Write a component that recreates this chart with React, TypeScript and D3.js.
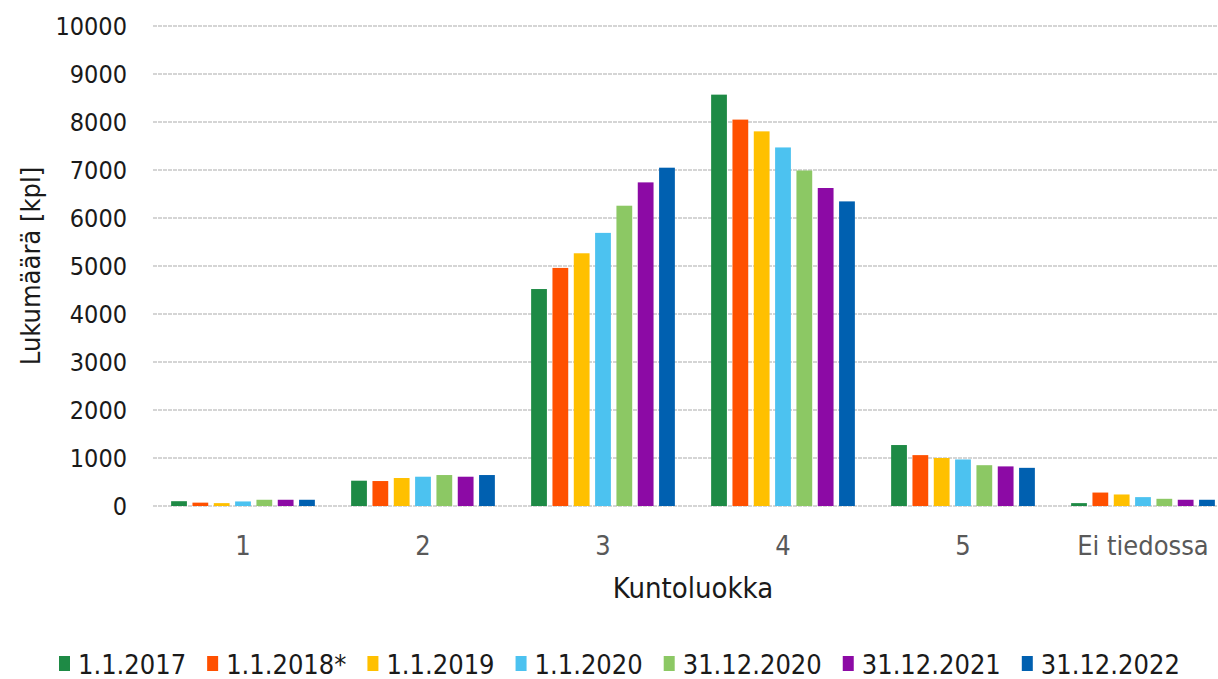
import React, { useEffect, useRef } from "react";
import * as d3 from "d3";

const categories = ["1", "2", "3", "4", "5", "Ei tiedossa"];
const seriesNames = ["1.1.2017", "1.1.2018*", "1.1.2019", "1.1.2020", "31.12.2020", "31.12.2021", "31.12.2022"];
const seriesColors = ["#1e8a45", "#ff5000", "#ffc000", "#4cc2f0", "#8cc864", "#8c0aa5", "#0060b0"];
const v2017 = [100, 527, 4520, 8570, 1270, 60];
const v2018 = [70, 520, 4960, 8050, 1060, 280];
const v2019 = [60, 583, 5265, 7805, 1000, 240];
const v2020 = [95, 610, 5690, 7470, 970, 185];
const v2020b = [130, 645, 6256, 6990, 850, 150];
const v2021 = [130, 610, 6742, 6625, 825, 130];
const v2022 = [130, 645, 7048, 6346, 795, 130];
const seriesValues = [v2017, v2018, v2019, v2020, v2020b, v2021, v2022];
const yTicks = [0, 1000, 2000, 3000, 4000, 5000, 6000, 7000, 8000, 9000, 10000];

const W = 1218, H = 679;
const FONT = "'DejaVu Sans Condensed', 'DejaVu Sans', Verdana, sans-serif";

export default function App() {
  const ref = useRef<SVGSVGElement>(null);
  useEffect(() => {
    const svg = d3.select(ref.current);
    svg.selectAll("*").remove();
    const left = 153, right = 1233, top = 26, bottom = 506;
    const x = d3.scaleBand<string>().domain(categories).range([left, right]).paddingInner(0).paddingOuter(0);
    const y = d3.scaleLinear().domain([0, 10000]).range([bottom, top]);
    const inner = d3.scaleBand<string>().domain(seriesNames).range([0, x.bandwidth()]).paddingInner(0.26).paddingOuter(0.85);

    const g = svg.append("g");
    g.selectAll("line.grid").data(yTicks).join("line")
      .attr("x1", left).attr("x2", W)
      .attr("y1", (d) => y(d)).attr("y2", (d) => y(d))
      .attr("stroke", "#c8c8c8").attr("stroke-width", 1.5)
      .attr("stroke-dasharray", "4,1");

    g.selectAll("text.yt").data(yTicks).join("text")
      .attr("x", 127).attr("y", (d) => y(d))
      .attr("dy", "0.36em").attr("text-anchor", "end")
      .attr("font-family", FONT).attr("font-stretch", "condensed").attr("font-size", 25).attr("fill", "#1a1a1a")
      .text((d) => String(d));

    seriesNames.forEach((s, si) => {
      g.append("g").selectAll("rect").data(seriesValues[si]).join("rect")
        .attr("x", (_d, i) => (x(categories[i]) as number) + (inner(s) as number))
        .attr("width", inner.bandwidth())
        .attr("y", (d) => y(d))
        .attr("height", (d) => y(0) - y(d))
        .attr("fill", seriesColors[si]);
    });

    g.selectAll("text.xt").data(categories).join("text")
      .attr("x", (d) => (x(d) as number) + x.bandwidth() / 2)
      .attr("y", 545).attr("dy", "0.36em").attr("text-anchor", "middle")
      .attr("font-family", FONT).attr("font-stretch", "condensed").attr("font-size", 27).attr("fill", "#595959")
      .text((d) => d);

    svg.append("text").attr("x", 693).attr("y", 588).attr("dy", "0.36em")
      .attr("text-anchor", "middle").attr("font-family", FONT).attr("font-stretch", "condensed").attr("font-size", 29).attr("fill", "#1a1a1a")
      .text("Kuntoluokka");
    svg.append("text").attr("transform", `translate(30,${(top + bottom) / 2}) rotate(-90)`)
      .attr("dy", "0.36em").attr("text-anchor", "middle").attr("font-family", FONT).attr("font-stretch", "condensed").attr("font-size", 27).attr("fill", "#1a1a1a")
      .text("Lukumäärä [kpl]");

    // legend
    const lg = svg.append("g");
    const items = seriesNames.map((s, i) => {
      const it = lg.append("g");
      it.append("rect").attr("x", 0).attr("y", -8).attr("width", 11).attr("height", 15).attr("fill", seriesColors[i]);
      const t = it.append("text").attr("x", 19).attr("dy", "0.36em").attr("font-family", FONT).attr("font-stretch", "condensed").attr("font-size", 27).attr("fill", "#1a1a1a").text(s);
      const w = 19 + (t.node() as SVGTextElement).getComputedTextLength();
      return { it, w };
    });
    const gap = 21;
    let cx = 59;
    items.forEach((d) => {
      d.it.attr("transform", `translate(${cx},664)`);
      cx += d.w + gap;
    });
  }, []);
  return <svg ref={ref} width={W} height={H} style={{ position: "absolute", left: 0, top: 0, background: "#fff" }} />;
}
